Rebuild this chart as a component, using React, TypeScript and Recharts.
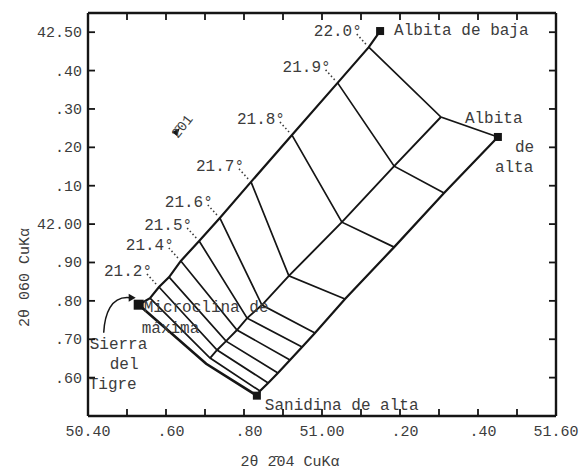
import React from 'react';
import { ComposedChart, Line, Scatter, XAxis, YAxis } from 'recharts';

const FONT = '"Liberation Mono", "DejaVu Sans Mono", monospace';
const INK = '#151515';
const TEXT = '#3c3c3c';

// Axis ticks
const xTicks = [50.4, 50.5, 50.6, 50.7, 50.8, 50.9, 51.0, 51.1, 51.2, 51.3, 51.4, 51.5, 51.6];
const xTickLabels = ['50.40', '', '.60', '', '.80', '', '51.00', '', '.20', '', '.40', '', '51.60'];
const yTicks = [41.5, 41.6, 41.7, 41.8, 41.9, 42.0, 42.1, 42.2, 42.3, 42.4, 42.5];
const yTickLabels = ['', '.60', '.70', '.80', '.90', '42.00', '.10', '.20', '.30', '.40', '42.50'];

// 2θ(201) iso-lines: labels, and vertices on upper edge / middle line / lower edge
const angleLabels = ['22.0°', '21.9°', '21.8°', '21.7°', '21.6°', '21.5°', '21.4°', '', '21.2°', ''];
const upperX = [51.12, 51.04, 50.923, 50.818, 50.738, 50.685, 50.638, 50.608, 50.582, 50.559];
const upperY = [42.461, 42.368, 42.232, 42.11, 42.016, 41.956, 41.904, 41.862, 41.836, 41.807];
const middleX = [51.305, 51.185, 51.051, 50.915, 50.846, 50.808, 50.782, 50.754, 50.731, 50.713];
const middleY = [42.279, 42.151, 42.005, 41.865, 41.789, 41.755, 41.724, 41.695, 41.672, 41.651];
const lowerX = [51.451, 51.313, 51.185, 51.059, 50.982, 50.949, 50.918, 50.887, 50.862, 50.841];
const lowerY = [42.227, 42.081, 41.94, 41.805, 41.716, 41.68, 41.646, 41.612, 41.586, 41.565];

// End members
const endNames = ['Albita de baja', 'Albita de alta', 'Sanidina de alta', 'Microclina de máxima'];
const endX = [51.149, 51.451, 50.833, 50.53];
const endY = [42.503, 42.227, 41.553, 41.79];

// Lower-left boundary bend
const kneeX = [50.703];
const kneeY = [41.636];

// Annotations
const localityLines = ['Sierra', 'del', 'Tigre'];
const noteText = '2\u030401';
const noteX = [50.615];
const noteY = [42.24];
const xTitle = '2θ 2\u030404 CuKα';
const yTitle = '2θ 060 CuKα';

const pt = (x: number, y: number) => ({ x, y });
const upperPts = upperX.map((x, i) => pt(x, upperY[i]));
const middlePts = middleX.map((x, i) => pt(x, middleY[i]));
const lowerPts = lowerX.map((x, i) => pt(x, lowerY[i]));

const upperEdge = [pt(endX[3], endY[3]), ...[...upperPts].reverse(), pt(endX[0], endY[0])];
const middleLine = [...middlePts].reverse();
const lowerEdge = [pt(endX[2], endY[2]), ...[...lowerPts].reverse()];
const crossLines = upperPts.map((p, i) => [p, middlePts[i], lowerPts[i]]);
const boundary = [pt(endX[3], endY[3]), pt(kneeX[0], kneeY[0]), pt(endX[2], endY[2])];

const angleData = upperPts.map((p, i) => ({ ...p, label: angleLabels[i] }));
const endData = endNames.map((name, i) => ({ x: endX[i], y: endY[i], name }));
const noteData = [{ x: noteX[0], y: noteY[0], label: noteText }];

const txt = (x: number, y: number, s: string, anchor: string = 'start', size = 16) => (
  <text x={x} y={y} textAnchor={anchor as any} fontFamily={FONT} fontSize={size} fill={TEXT}>
    {s}
  </text>
);

const BottomTick = (p: any) => {
  const i = xTicks.findIndex((t) => Math.abs(t - p.payload.value) < 1e-6);
  const lab = i >= 0 ? xTickLabels[i] : '';
  return (
    <g>
      <line x1={p.x} x2={p.x} y1={p.y} y2={p.y - 7} stroke={INK} strokeWidth={1.8} />
      {lab ? txt(p.x + (lab[0] === '.' ? 5 : 0), p.y + 20, lab, 'middle', 15) : null}
    </g>
  );
};
const TopTick = (p: any) => (
  <line x1={p.x} x2={p.x} y1={p.y} y2={p.y + 7} stroke={INK} strokeWidth={1.8} />
);
const LeftTick = (p: any) => {
  const i = yTicks.findIndex((t) => Math.abs(t - p.payload.value) < 1e-6);
  const lab = i >= 0 ? yTickLabels[i] : '';
  return (
    <g>
      <line x1={p.x} x2={p.x + 7} y1={p.y} y2={p.y} stroke={INK} strokeWidth={1.8} />
      {lab ? txt(p.x - 6, p.y + 5, lab, 'end', 15) : null}
    </g>
  );
};
const RightTick = (p: any) => (
  <line x1={p.x} x2={p.x - 7} y1={p.y} y2={p.y} stroke={INK} strokeWidth={1.8} />
);

const AngleShape = (p: any) => {
  const { cx, cy, payload } = p;
  if (!payload.label) return <g />;
  return (
    <g>
      <line x1={cx - 12} y1={cy - 13} x2={cx - 2} y2={cy - 2} stroke={TEXT} strokeWidth={1.6} strokeDasharray="1.5 2.5" />
      {txt(cx - 31, cy - 11, payload.label, 'middle')}
    </g>
  );
};

const EndShape = (p: any) => {
  const { cx, cy, payload } = p;
  const name = payload.name as string;
  const s = name === endNames[3] ? 10 : 8;
  let extra: React.ReactNode = null;
  if (name === endNames[0]) {
    extra = txt(cx + 14, cy + 4, name);
  } else if (name === endNames[1]) {
    const w = name.split(' ');
    extra = (
      <g>
        {txt(cx - 33, cy - 14, w[0])}
        {txt(cx + 17, cy + 15, w[1])}
        {txt(cx - 3, cy + 35, w[2])}
      </g>
    );
  } else if (name === endNames[2]) {
    extra = txt(cx + 8, cy + 14, name);
  } else {
    const w = name.split(' ');
    extra = (
      <g>
        {txt(cx + 5, cy + 7, `${w[0]} ${w[1]}`)}
        {txt(cx + 3, cy + 28, w[2])}
        {txt(cx - 49, cy + 44, localityLines[0])}
        {txt(cx - 29, cy + 64, localityLines[1])}
        {txt(cx - 50, cy + 84, localityLines[2])}
        <path
          d={`M${cx - 35},${cy + 28} C${cx - 34},${cy + 10} ${cx - 28},${cy - 9} ${cx - 9},${cy - 7}`}
          fill="none"
          stroke={INK}
          strokeWidth={1.5}
        />
        <path d={`M${cx - 3},${cy - 7} L${cx - 10},${cy - 11} L${cx - 10},${cy - 3} Z`} fill={INK} />
      </g>
    );
  }
  return (
    <g>
      <rect x={cx - s / 2} y={cy - s / 2} width={s} height={s} fill={INK} />
      {extra}
    </g>
  );
};

const NoteShape = (p: any) => {
  const { cx, cy, payload } = p;
  return (
    <g>
      <path d={`M${cx},${cy} L${cx + 8},${cy - 4} L${cx + 5},${cy + 4} Z`} fill={INK} />
      <text
        x={cx + 6}
        y={cy + 7}
        transform={`rotate(-52 ${cx + 6} ${cy + 7})`}
        fontFamily={FONT}
        fontSize={14}
        fill={TEXT}
      >
        {payload.label}
      </text>
    </g>
  );
};

const lineProps = {
  dataKey: 'y',
  xAxisId: 'b',
  yAxisId: 'l',
  stroke: INK,
  dot: false,
  activeDot: false,
  isAnimationActive: false,
  type: 'linear' as const,
  legendType: 'none' as const,
};

export default function App() {
  return (
    <div style={{ position: 'absolute', left: 0, top: 0, background: '#fff' }}>
      <ComposedChart width={586} height={472} margin={{ top: 0, right: 0, bottom: 0, left: 0 }}>
        <XAxis
          xAxisId="b"
          dataKey="x"
          type="number"
          domain={[50.4, 51.6]}
          ticks={xTicks}
          interval={0}
          allowDataOverflow
          height={56}
          tickSize={0}
          tickMargin={0}
          tickLine={false}
          tick={<BottomTick />}
          axisLine={{ stroke: INK, strokeWidth: 2.4 }}
          label={{
            value: xTitle,
            position: 'insideBottom',
            offset: 6,
            dx: -32,
            style: { fontFamily: FONT, fontSize: 15, fill: TEXT },
          }}
        />
        <XAxis
          xAxisId="t"
          orientation="top"
          dataKey="x"
          type="number"
          domain={[50.4, 51.6]}
          ticks={xTicks}
          interval={0}
          allowDataOverflow
          height={13}
          tickSize={0}
          tickMargin={0}
          tickLine={false}
          tick={<TopTick />}
          axisLine={{ stroke: INK, strokeWidth: 2.4 }}
        />
        <YAxis
          yAxisId="l"
          dataKey="y"
          type="number"
          domain={[41.5, 42.55]}
          ticks={yTicks}
          interval={0}
          allowDataOverflow
          width={88}
          tickSize={0}
          tickMargin={0}
          tickLine={false}
          tick={<LeftTick />}
          axisLine={{ stroke: INK, strokeWidth: 2.4 }}
          label={{
            value: yTitle,
            angle: -90,
            position: 'insideLeft',
            offset: 0,
            dx: 24,
            dy: 63,
            style: { fontFamily: FONT, fontSize: 15, fill: TEXT, textAnchor: 'middle' },
          }}
        />
        <YAxis
          yAxisId="r"
          orientation="right"
          dataKey="y"
          type="number"
          domain={[41.5, 42.55]}
          ticks={yTicks}
          interval={0}
          allowDataOverflow
          width={30}
          tickSize={0}
          tickMargin={0}
          tickLine={false}
          tick={<RightTick />}
          axisLine={{ stroke: INK, strokeWidth: 2.4 }}
        />
        <Line {...lineProps} data={upperEdge} strokeWidth={2.2} />
        <Line {...lineProps} data={middleLine} strokeWidth={1.9} />
        <Line {...lineProps} data={lowerEdge} strokeWidth={2.2} />
        <Line {...lineProps} data={boundary} strokeWidth={2.6} />
        {crossLines.map((seg, i) => (
          <Line key={i} {...lineProps} data={seg} strokeWidth={1.7} />
        ))}
        <Scatter xAxisId="b" yAxisId="l" data={angleData} shape={<AngleShape />} isAnimationActive={false} legendType="none" />
        <Scatter xAxisId="b" yAxisId="l" data={noteData} shape={<NoteShape />} isAnimationActive={false} legendType="none" />
        <Scatter xAxisId="b" yAxisId="l" data={endData} shape={<EndShape />} isAnimationActive={false} legendType="none" />
      </ComposedChart>
    </div>
  );
}
